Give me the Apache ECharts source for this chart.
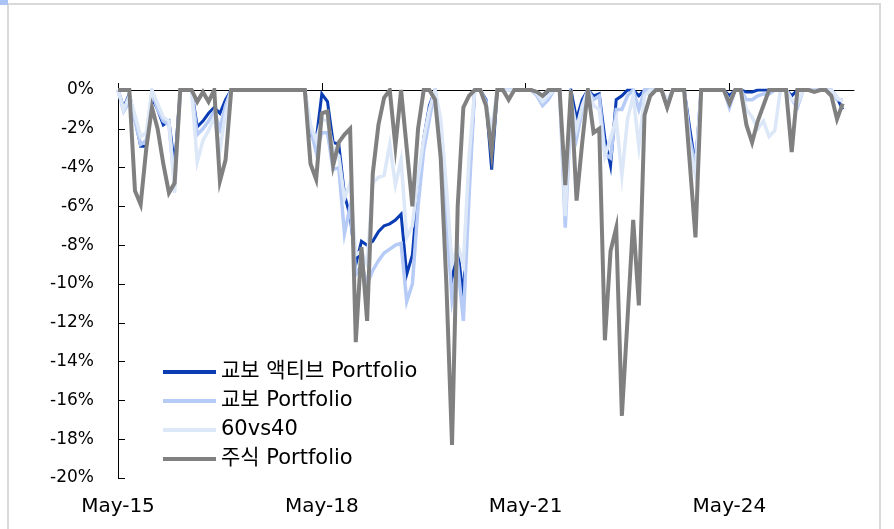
<!DOCTYPE html>
<html>
<head>
<meta charset="utf-8">
<script src="https://cdn.jsdelivr.net/npm/echarts@6/dist/echarts.min.js"></script>
<style>
  html, body { margin: 0; padding: 0; background: #fff; }
  #chart { width: 894px; height: 529px; }
</style>
</head>
<body>
<div id="chart"></div>
<script>
  // monthly drawdowns (%), May-15 onward
  const seriesNames = ['교보 액티브 Portfolio', '교보 Portfolio', '60vs40', '주식 Portfolio'];
  const tickLabels = ['May-15', 'May-18', 'May-21', 'May-24'];

  const activeDD = [
    0, -0.9, -0.2, -1.5, -2.9, -2.9, -0.4, -1.0, -1.8, -1.6,
    -3.9, 0, 0, 0, -1.9, -1.6, -1.2, -0.9, -1.2, -0.5,
    0, 0, 0, 0, 0, 0, 0, 0, 0, 0,
    0, 0, 0, 0, -2.3, -2.6, -0.2, -0.6, -2.7, -2.8,
    -5.4, -6.5, -9.0, -7.8, -8.0, -7.8, -7.3, -7.0, -6.9, -6.7,
    -6.4, -9.5, -8.5, -5.0, -2.5, -0.8, 0, -2.0, -5.5, -9.7,
    -8.2, -10.7, -5.0, 0, 0, -0.5, -4.1, 0, 0, 0,
    0, 0, 0, 0, -0.1, -0.3, -0.1, 0, 0, -5.8,
    0, -1.5, -0.5, 0, -0.3, -0.2, -2.5, -3.9, -0.5, -0.3,
    0, 0, -0.3, 0, 0, 0, 0, -0.9, 0, 0,
    0, -2.0, -3.9, 0, 0, 0, 0, 0, -0.3, 0,
    0, -0.1, -0.1, 0, 0, 0, 0, 0, 0, -0.3,
    0, 0, 0, 0, 0, 0, 0, -0.4, -1.0
  ];
  const kyoboDD = [
    0, -1.1, -0.6, -1.6, -2.8, -2.6, -0.1, -1.0, -1.6, -1.8,
    -4.8, 0, 0, 0, -2.3, -2.0, -1.6, -1.1, -2.0, -0.8,
    0, 0, 0, 0, 0, 0, 0, 0, 0, 0,
    0, 0, 0, 0, -2.0, -3.2, -2.2, -2.2, -4.1, -4.0,
    -7.4, -6.0, -9.5, -9.0, -10.0, -9.3, -8.8, -8.4, -8.2, -8.0,
    -7.9, -10.9, -10.0, -6.0, -3.1, -1.5, 0, -2.0, -6.5, -10.8,
    -9.0, -11.9, -5.5, 0, 0, -0.6, -3.0, 0, 0, 0,
    0, 0, 0, 0, -0.3, -0.8, -0.5, 0, 0, -7.1,
    -1.0, -2.5, -1.0, 0, -0.5, -0.3, -3.3, -3.5, -1.0, -1.0,
    -0.3, 0, -1.0, 0, 0, 0, 0, -0.7, 0, 0,
    0, -2.5, -4.0, 0, 0, 0, 0, 0, -0.9, 0,
    0, -0.5, -0.5, -0.3, -0.2, -0.2, 0, 0, 0, -0.5,
    -0.9, 0, 0, 0, 0, 0, 0, -0.5, -0.5
  ];
  const mix6040DD = [
    0, -1.0, -0.3, -1.3, -2.4, -2.2, 0, -0.7, -1.4, -1.6,
    -5.3, 0, 0, 0, -3.7, -2.6, -2.1, -1.4, -3.1, -1.2,
    0, 0, 0, 0, 0, 0, 0, 0, 0, 0,
    0, 0, 0, 0, -1.8, -2.6, -1.5, -1.6, -3.0, -3.4,
    -5.6, -4.8, -8.5, -8.3, -9.0, -4.8, -4.5, -4.4, -2.8, -4.9,
    -3.6, -7.6, -7.0, -4.5, -2.5, -1.0, 0, -1.5, -5.0, -9.0,
    -8.0, -9.0, -3.5, 0, 0, -0.8, -2.0, 0, 0, 0,
    0, 0, 0, 0, -0.2, -0.6, -0.3, 0, 0, -6.5,
    -0.5, -2.0, -0.8, 0, -0.8, -1.0, -3.4, -2.5, -1.5, -4.4,
    -1.5, -0.3, -2.9, -0.3, 0, 0, 0, -0.5, 0, 0,
    0, -3.0, -4.4, 0, 0, 0, 0, 0, -0.6, 0,
    0, -1.0, -1.4, -2.0, -1.6, -2.4, -2.1, 0, 0, -0.5,
    -0.7, 0, 0, 0, 0, 0, 0, -0.4, -0.6
  ];
  const equityDD = [
    0, 0, 0, -5.2, -5.9, -3.0, -0.9, -2.0, -3.8, -5.3,
    -4.8, 0, 0, 0, -0.6, -0.1, -0.6, 0, -4.7, -3.6,
    0, 0, 0, 0, 0, 0, 0, 0, 0, 0,
    0, 0, 0, 0, -3.8, -4.6, -1.2, -1.1, -3.9, -2.7,
    -2.3, -2.0, -13.0, -8.1, -11.9, -4.3, -1.8, -0.4, 0, -2.9,
    0, -3.0, -6.0, -2.0, 0, 0, -0.5, -3.5, -10.0, -18.3,
    -6.0, -0.9, -0.3, 0, 0, -0.8, -3.2, 0, 0, -0.5,
    0, 0, 0, 0, -0.1, -0.3, 0, 0, 0, -4.9,
    0, -5.7, -2.7, 0, -2.2, -2.0, -12.9, -8.3, -7.1, -16.8,
    -11.8, -6.7, -11.1, -1.3, -0.3, 0, 0, -0.9, 0, 0,
    0, -3.8, -7.6, 0, 0, 0, 0, 0, -0.7, 0,
    0, -1.8, -2.7, -1.6, -0.8, 0, 0, 0, 0, -3.2,
    0, 0, 0, -0.1, 0, 0, -0.3, -1.5, -0.7
  ];

  const colors = ['#0a3cb4', '#b7cbf7', '#dce7f8', '#808080'];

  // month categories May-15 .. Mar-26 (axis runs a little past the last point)
  const monNames = ['Jan', 'Feb', 'Mar', 'Apr', 'May', 'Jun', 'Jul', 'Aug', 'Sep', 'Oct', 'Nov', 'Dec'];
  let categories = [];
  for (let k = 0; k < 131; k++) {
    let m = (4 + k) % 12;
    let y = 15 + Math.floor((4 + k) / 12);
    categories.push(monNames[m] + '-' + y);
  }

  let myChart = echarts.init(document.getElementById('chart'));
  const font = '"DejaVu Sans", "Noto Sans CJK KR", sans-serif';

  let seriesData = [activeDD, kyoboDD, mix6040DD, equityDD];
  let widths = [3, 3.5, 3.5, 4];
  let series = [];
  for (let i = 0; i < seriesNames.length; i++) {
    series.push({
      name: seriesNames[i],
      type: 'line',
      xAxisIndex: 0,
      data: seriesData[i],
      showSymbol: false,
      symbol: 'none',
      lineStyle: { width: widths[i], color: colors[i], join: 'miter' },
      itemStyle: { color: colors[i] },
      z: 2 + i
    });
  }

  myChart.setOption({
    animation: false,
    textStyle: { fontFamily: font },
    graphic: [
      {
        type: 'rect',
        shape: { x: 8, y: 4, width: 872, height: 540 },
        style: { fill: 'none', stroke: '#d9d9d9', lineWidth: 2 },
        silent: true
      },
      {
        type: 'rect',
        shape: { x: 0, y: 0, width: 8, height: 5 },
        style: { fill: '#aac4f5' },
        silent: true
      }
    ],
    grid: { left: 118, top: 90, right: 40, bottom: 51 },
    legend: {
      orient: 'vertical',
      left: 158,
      top: 356,
      itemWidth: 53,
      itemHeight: 4,
      itemGap: 7,
      icon: 'rect',
      data: seriesNames,
      textStyle: { fontSize: 21, color: '#000', lineHeight: 22, fontFamily: font }
    },
    xAxis: [
      {
        type: 'category',
        position: 'top',
        data: categories,
        boundaryGap: false,
        axisLine: { onZero: false, lineStyle: { color: '#000', width: 1 } },
        axisTick: { show: true, length: 7, interval: (idx) => idx % 36 === 0, lineStyle: { color: '#000' } },
        axisLabel: { show: false },
        splitLine: { show: false }
      },
      {
        type: 'category',
        position: 'bottom',
        data: categories,
        boundaryGap: false,
        axisLine: { show: false, onZero: false },
        axisTick: { show: false },
        splitLine: { show: false },
        axisLabel: {
          interval: (idx) => idx % 36 === 0,
          formatter: (v) => tickLabels.includes(v) ? v : '',
          margin: 19,
          fontSize: 20,
          color: '#000',
          fontFamily: font
        }
      }
    ],
    yAxis: {
      type: 'value',
      min: -20,
      max: 0,
      interval: 2,
      axisLine: { show: true, lineStyle: { color: '#000', width: 1 } },
      axisTick: { show: true, inside: true, length: 7, lineStyle: { color: '#000' } },
      splitLine: { show: false },
      axisLabel: {
        formatter: '{value}%',
        fontSize: 17,
        color: '#000',
        margin: 24,
        fontFamily: font
      }
    },
    series: series
  });
</script>
</body>
</html>
